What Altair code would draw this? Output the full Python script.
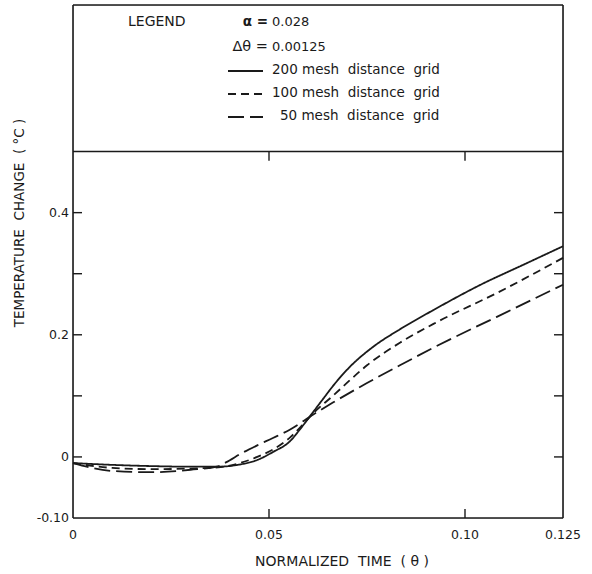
import altair as alt
import pandas as pd

# ---- data ----
theta_200 = [0, 0.01, 0.02, 0.03, 0.037, 0.042, 0.047, 0.051, 0.0554, 0.058, 0.0612,
             0.0638, 0.0663, 0.0707, 0.0765, 0.0834, 0.0918, 0.104, 0.115, 0.125]
temp_200 = [-0.010, -0.013, -0.015, -0.016, -0.016, -0.013, -0.005, 0.008, 0.026, 0.046, 0.073,
            0.095, 0.116, 0.148, 0.180, 0.209, 0.240, 0.282, 0.315, 0.345]

theta_100 = [0, 0.01, 0.02, 0.03, 0.037, 0.0426, 0.047, 0.051, 0.0554, 0.0585, 0.0612,
             0.0663, 0.0707, 0.075, 0.0834, 0.0929, 0.108, 0.125]
temp_100 = [-0.010, -0.018, -0.020, -0.019, -0.017, -0.010, 0.000, 0.012, 0.032, 0.052, 0.071,
            0.100, 0.126, 0.150, 0.187, 0.221, 0.268, 0.326]

theta_50 = [0, 0.01, 0.02, 0.03, 0.0367, 0.039, 0.043, 0.047, 0.051, 0.0554, 0.0612, 0.0663,
            0.075, 0.0834, 0.0929, 0.108, 0.125]
temp_50 = [-0.010, -0.023, -0.025, -0.021, -0.016, -0.009, 0.006, 0.019, 0.031, 0.045, 0.069, 0.089,
           0.121, 0.150, 0.182, 0.229, 0.282]

NB = "\u00a0"
series_names = [f"200 mesh{NB} distance{NB} grid",
                f"100 mesh{NB} distance{NB} grid",
                f"50 mesh{NB} distance{NB} grid"]

x_label_values = [0, 0.05, 0.10, 0.125]
x_label_text = ["0", "0.05", "0.10", "0.125"]
y_label_values = [-0.1, 0, 0.2, 0.4]
y_label_text = ["-0.10", "0", "0.2", "0.4"]
x_tick_values = [0.05, 0.10]
y_tick_values = [0, 0.1, 0.2, 0.3, 0.4]
legend_split = 0.5

x_title = f"NORMALIZED{NB} TIME{NB} ( θ )"
y_title = f"TEMPERATURE{NB} CHANGE{NB} ( °C )"
legend_word = "LEGEND"
alpha_label, alpha_value = "α =", "0.028"
dtheta_label, dtheta_value = "Δθ =", "0.00125"

# ---- layout ----
W, H = 490, 513
FONT = "DejaVu Sans"
INK = "#1a1a1a"

x_scale = alt.Scale(domain=[0, 0.125], nice=False, zero=False)
y_scale = alt.Scale(domain=[-0.1, 0.74], nice=False, zero=False)


def X(field):
    return alt.X(field, scale=x_scale, axis=None)


def Y(field):
    return alt.Y(field, scale=y_scale, axis=None)


def curve(th, tp, dash):
    df = pd.DataFrame({"theta": th, "temp": tp})
    return alt.Chart(df).mark_line(color=INK, strokeWidth=1.8, strokeDash=dash,
                                   interpolate="monotone").encode(
        x=X("theta:Q"), y=Y("temp:Q"))


c200 = curve(theta_200, temp_200, [1, 0])
c100 = curve(theta_100, temp_100, [8, 5])
c50 = curve(theta_50, temp_50, [16, 6])

one = pd.DataFrame({"a": [0]})

# inward ticks, one datum-positioned rule per tick value (through the shared scales)
TL = 9
tick_layers = []
for v in y_tick_values:
    tick_layers.append(alt.Chart(one).mark_rule(color=INK, strokeWidth=1.4).encode(
        y=alt.Y(datum=v, scale=y_scale, axis=None), x=alt.value(0), x2=alt.value(TL)))
    tick_layers.append(alt.Chart(one).mark_rule(color=INK, strokeWidth=1.4).encode(
        y=alt.Y(datum=v, scale=y_scale, axis=None), x=alt.value(W - TL), x2=alt.value(W)))
for v in x_tick_values:
    tick_layers.append(alt.Chart(one).mark_rule(color=INK, strokeWidth=1.4).encode(
        x=alt.X(datum=v, scale=x_scale, axis=None), y=alt.value(H), y2=alt.value(H - TL)))
    tick_layers.append(alt.Chart(one).mark_rule(color=INK, strokeWidth=1.4).encode(
        x=alt.X(datum=v, scale=x_scale, axis=None),
        y=alt.Y(datum=legend_split, scale=y_scale, axis=None),
        y2=alt.Y2(datum=legend_split - 0.015)))

split_line = alt.Chart(one).mark_rule(color=INK, strokeWidth=1.6).encode(
    y=alt.Y(datum=legend_split, scale=y_scale, axis=None), x=alt.value(0), x2=alt.value(W))

# plot frame
frame = [
    alt.Chart(one).mark_rule(color=INK, strokeWidth=1.6).encode(
        x=alt.value(0), x2=alt.value(W), y=alt.value(0)),
    alt.Chart(one).mark_rule(color=INK, strokeWidth=1.6).encode(
        x=alt.value(0), x2=alt.value(W), y=alt.value(H)),
    alt.Chart(one).mark_rule(color=INK, strokeWidth=1.6).encode(
        x=alt.value(0), y=alt.value(0), y2=alt.value(H)),
    alt.Chart(one).mark_rule(color=INK, strokeWidth=1.6).encode(
        x=alt.value(W), y=alt.value(0), y2=alt.value(H)),
]

# axis labels through the scales
xl = pd.DataFrame({"v": x_label_values, "label": x_label_text})
yl = pd.DataFrame({"v": y_label_values, "label": y_label_text})
x_labels = alt.Chart(xl).mark_text(font=FONT, fontSize=12.5, color=INK, align="center",
                                   baseline="middle").encode(
    x=X("v:Q"), y=alt.value(H + 17), text="label:N")
y_labels = alt.Chart(yl).mark_text(font=FONT, fontSize=12.5, color=INK, align="right",
                                   baseline="middle").encode(
    y=Y("v:Q"), x=alt.value(-4), text="label:N")


def txt(s, x, y, align="left", size=13, weight="normal", angle=0):
    return alt.Chart(one).mark_text(align=align, baseline="middle", font=FONT, fontSize=size,
                                    color=INK, fontWeight=weight, angle=angle).encode(
        x=alt.value(x), y=alt.value(y), text=alt.value(s))


x_title_mark = txt(x_title, 269, 557, align="center", size=14)
y_title_mark = txt(y_title, -53, 218, align="center", size=13.5, angle=270)

legend_rows_y = [66, 89, 112]
legend_text_x = [199, 199, 207]
legend_dashes = [[1, 0], [8, 5], [16, 6]]
legend_layers = [
    txt(legend_word, 55, 17, size=14),
    txt(alpha_label, 195, 17, align="right", size=13.5, weight="bold"),
    txt(alpha_value, 199, 17),
    txt(dtheta_label, 195, 42, align="right", size=14.5),
    txt(dtheta_value, 199, 42),
]
for name, yy, tx, dash in zip(series_names, legend_rows_y, legend_text_x, legend_dashes):
    legend_layers.append(
        alt.Chart(one).mark_rule(color=INK, strokeWidth=1.8, strokeDash=dash).encode(
            x=alt.value(155), x2=alt.value(190), y=alt.value(yy)))
    legend_layers.append(txt(name, tx, yy - 1, size=13.5))

chart = alt.layer(
    c200, c100, c50, *tick_layers, split_line, *frame,
    x_labels, y_labels, x_title_mark, y_title_mark, *legend_layers
).properties(
    width=W, height=H,
    autosize=alt.AutoSizeParams(type="none"),
    padding={"left": 73, "top": 5, "right": 29, "bottom": 56},
).configure(background="white")

chart.save("out.html", embed_options={"renderer": "svg", "actions": False})
